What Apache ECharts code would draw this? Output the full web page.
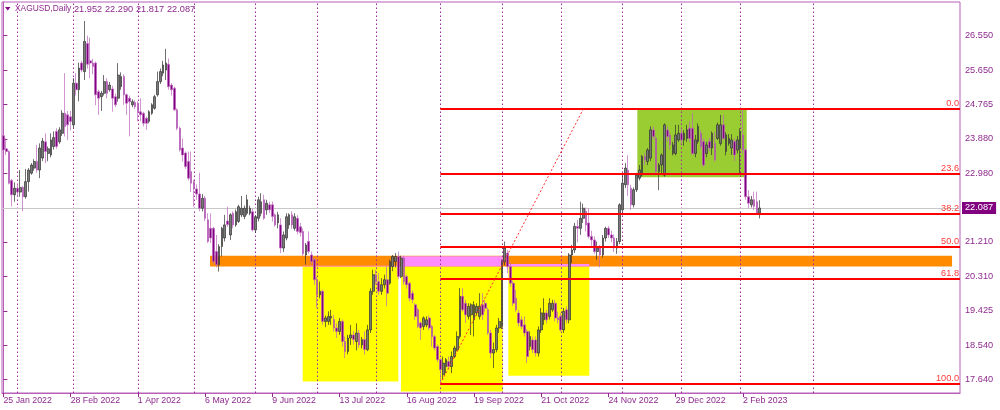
<!DOCTYPE html>
<html><head><meta charset="utf-8">
<script src="https://cdn.jsdelivr.net/npm/echarts@6/dist/echarts.min.js"></script>
<style>html,body{margin:0;padding:0;background:#fff}#c{width:1000px;height:410px}</style>
</head><body><div id="c"></div>
<script>
// ---------- data ----------
const symbolTitle = 'XAGUSD,Daily';
const firstDate = '2022-01-25';
const holidays = ['2022-04-15', '2022-12-26', '2023-01-02'];
// daily candles: [open, close, low, high]
const candles = [
[23.96,23.59,23.55,24.02],[23.62,23.55,23.46,23.89],[23.55,22.73,22.70,23.58],[22.80,22.43,22.13,22.84],[22.43,22.60,22.25,22.75],[22.60,22.50,22.38,22.70],[22.50,22.62,22.38,23.07],[22.62,22.38,22.00,22.66],[22.38,22.77,22.33,23.10],[22.77,23.07,22.51,23.12],
[22.99,23.20,22.95,23.25],[23.12,23.29,23.05,23.35],[23.29,23.07,23.00,23.72],[23.07,23.64,22.86,23.76],[23.38,23.82,23.30,23.90],[23.80,23.55,23.25,24.02],[23.50,23.62,23.30,23.68],[23.46,23.85,23.40,24.02],[23.68,23.91,23.60,24.07],[24.07,23.68,23.62,24.15],
[23.80,24.11,23.75,24.18],[24.02,24.54,23.95,24.62],[24.54,24.20,23.94,25.58],[24.50,24.24,23.85,24.60],[24.45,24.33,24.10,24.60],[24.24,25.32,24.15,25.45],[25.32,25.15,25.00,25.58],[25.15,25.71,24.85,25.85],[25.84,25.66,25.60,25.90],[25.62,26.40,25.40,26.93],
[26.35,25.81,25.70,26.55],[25.90,25.84,25.45,26.50],[25.84,25.75,25.55,25.95],[25.84,25.02,24.75,25.88],[25.10,24.93,24.50,25.15],[24.97,25.06,24.60,25.12],[25.06,25.36,25.00,25.53],[25.36,25.06,24.93,25.45],[25.15,25.27,25.10,25.35],[25.17,24.93,24.58,25.25],
[24.97,24.76,24.70,25.05],[24.93,25.53,24.84,25.84],[25.23,25.49,25.15,25.60],[25.49,25.02,24.76,25.55],[25.02,24.80,24.50,25.05],[24.93,24.84,23.94,25.00],[24.76,24.84,24.70,24.90],[24.82,24.71,24.65,24.88],[24.80,24.58,24.33,24.85],[24.58,24.50,24.33,24.93],
[24.54,24.28,24.20,24.58],[24.41,24.28,24.11,24.45],[24.33,24.58,24.28,24.62],[24.54,24.76,24.50,24.80],[24.67,24.97,24.63,25.02],[25.02,25.36,24.97,25.62],[25.36,25.62,25.30,25.70],[25.58,25.79,25.50,25.90],[25.66,25.84,25.40,26.21],[25.81,25.23,25.15,25.96],
[25.27,25.15,25.00,25.32],[25.19,24.63,24.60,25.23],[24.63,24.15,24.10,24.67],[24.15,23.59,23.55,24.20],[23.64,23.46,23.29,23.89],[23.51,23.16,23.10,23.55],[23.29,22.86,22.80,23.55],[23.03,22.73,22.50,23.55],[22.77,22.58,22.12,22.82],[22.58,22.45,22.30,22.70],
[22.45,22.08,22.00,23.00],[22.08,22.34,22.00,22.45],[22.34,21.82,21.75,22.40],[21.78,21.22,21.18,21.95],[21.56,21.31,21.18,21.95],[21.56,20.70,20.65,21.60],[20.96,20.62,20.55,21.39],[20.62,21.09,20.44,21.15],[21.09,21.56,20.83,21.60],[21.31,21.65,21.22,21.91],
[21.75,21.66,21.60,22.12],[21.39,21.91,21.26,21.95],[21.95,21.65,21.56,22.00],[21.65,21.99,21.60,22.05],[21.74,22.12,21.70,22.17],[21.91,22.08,21.85,22.40],[21.87,22.08,21.80,22.15],[21.95,22.30,21.90,22.43],[21.95,22.08,21.90,22.15],[21.99,21.52,21.48,22.08],
[21.52,21.86,21.44,21.90],[21.82,22.30,21.74,22.38],[21.95,22.25,21.87,22.47],[22.30,21.82,21.78,22.43],[22.04,22.21,21.91,22.30],[22.17,22.04,21.95,22.25],[22.17,21.87,21.74,22.25],[21.91,21.65,21.60,21.95],[21.70,21.91,21.56,21.99],[21.65,21.05,20.92,21.82],
[21.05,21.39,20.95,21.48],[21.31,21.86,21.25,21.95],[21.65,21.91,21.55,21.95],[21.91,21.65,21.55,22.00],[21.56,21.86,21.50,21.95],[21.82,21.48,21.40,21.90],[21.60,21.45,21.35,21.70],[21.48,20.90,20.85,21.56],[20.87,21.13,20.62,21.18],[21.22,20.96,20.90,21.48],
[20.87,20.70,20.62,20.96],[20.75,20.23,20.10,20.79],[20.23,19.84,19.50,20.30],[19.84,19.93,19.75,20.18],[19.93,19.15,19.06,19.97],[19.15,19.24,19.00,19.30],[19.15,19.28,19.06,19.41],[19.24,19.28,19.06,19.45],[19.20,18.98,18.89,19.32],[18.98,18.89,18.72,19.10],
[18.89,19.15,18.80,19.24],[19.15,18.63,18.50,19.20],[18.63,18.37,18.20,18.76],[18.37,18.72,18.30,18.80],[18.72,18.80,18.54,19.06],[18.80,18.68,18.55,18.90],[18.63,18.85,18.40,19.10],[18.85,18.54,18.46,18.93],[18.54,18.68,18.45,18.75],[18.68,18.42,18.29,18.89],
[18.42,18.93,18.38,19.06],[18.93,19.93,18.85,20.01],[19.93,20.36,19.84,20.49],[20.36,20.18,20.10,20.49],[20.18,19.93,19.84,20.40],[19.93,20.10,19.84,20.27],[20.10,20.23,20.00,20.36],[20.23,19.88,19.54,20.57],[20.14,20.70,20.10,20.75],[20.57,20.83,20.45,20.87],
[20.70,20.83,20.55,20.92],[20.83,20.31,20.25,20.96],[20.31,20.79,20.27,20.85],[20.79,20.18,20.10,20.85],[20.31,20.10,20.00,20.36],[20.14,19.75,19.67,20.18],[19.88,19.71,19.62,19.95],[19.58,19.28,19.19,19.62],[19.45,19.02,18.98,19.50],[19.11,18.98,18.67,19.15],
[19.02,19.24,18.93,19.28],[19.06,19.19,19.00,19.28],[19.24,18.98,18.93,19.30],[19.02,18.76,18.50,19.06],[18.76,18.46,18.40,18.80],[18.50,18.16,18.10,18.55],[18.16,17.90,17.54,18.20],[17.77,18.07,17.64,18.24],[17.98,18.16,17.81,18.20],[18.11,17.98,17.90,18.24],
[17.98,18.24,17.81,18.37],[18.24,18.46,18.20,18.52],[18.42,18.76,18.38,18.89],[18.76,19.80,18.70,20.01],[19.80,19.45,19.40,20.01],[19.62,19.32,19.11,19.71],[19.28,19.54,19.20,19.62],[19.32,19.58,18.80,19.62],[19.19,19.58,18.76,19.67],[19.37,19.54,19.30,19.62],
[19.28,19.54,19.20,19.88],[19.58,19.32,19.19,19.88],[19.62,19.49,19.40,19.70],[19.45,18.85,18.80,19.50],[18.85,18.33,18.20,18.93],[18.33,18.42,17.94,18.60],[18.42,18.98,18.35,19.06],[18.98,19.15,18.85,19.24],[19.02,20.70,18.95,20.75],[20.70,21.05,20.60,21.22],
[20.92,20.57,20.40,21.00],[20.57,20.14,20.05,20.66],[20.14,19.62,19.55,20.20],[19.75,19.45,19.40,19.97],[19.37,19.11,19.02,19.45],[19.19,19.02,18.95,19.28],[19.06,18.85,18.76,19.28],[18.89,18.24,18.07,18.95],[18.50,18.76,18.40,18.89],[18.67,18.42,18.33,18.76],
[18.67,18.33,18.24,18.76],[18.33,18.93,18.24,19.02],[18.93,19.37,18.85,19.50],[19.19,19.37,19.06,19.75],[19.37,19.19,19.10,19.45],[19.28,19.62,19.20,19.75],[19.45,19.62,19.40,19.71],[19.62,19.24,19.15,19.71],[19.24,19.19,19.10,19.40],[19.28,18.93,18.89,19.37],
[18.93,19.41,18.85,19.50],[19.45,19.19,19.10,19.54],[19.19,20.87,19.10,20.92],[20.87,21.00,20.66,21.13],[21.00,21.61,20.92,21.70],[21.61,21.56,21.20,21.78],[21.56,21.82,21.39,22.25],[21.82,22.08,21.70,22.20],[22.00,21.65,21.48,22.10],[21.70,21.35,21.30,22.08],
[21.35,21.26,21.10,21.50],[21.26,20.96,20.90,21.35],[20.96,21.05,20.75,21.22],[21.05,20.87,20.55,21.13],[20.87,21.31,20.80,21.39],[21.31,21.56,21.22,21.60],[21.56,21.39,21.31,21.62],[21.39,21.31,21.20,21.50],[21.31,21.05,20.95,21.40],[21.05,21.22,20.90,21.31],
[21.22,22.17,21.15,22.21],[22.04,22.73,21.99,22.94],[22.69,23.12,22.60,23.25],[23.07,22.69,22.40,23.45],[22.60,22.17,22.04,22.69],[22.17,22.56,22.10,22.62],[22.56,22.94,22.50,23.00],[22.86,23.07,22.80,23.20],[22.94,23.42,22.90,23.46],[23.42,23.33,23.20,23.50],
[23.29,23.59,23.20,23.64],[23.38,24.11,23.30,24.20],[24.11,23.94,23.85,24.20],[23.89,23.03,22.98,23.94],[23.03,23.20,22.55,23.25],[23.20,23.46,22.98,23.50],[22.94,24.24,22.90,24.28],[24.11,23.94,23.80,24.20],[23.98,23.72,23.60,24.05],[23.50,23.72,23.45,23.80],
[23.50,23.98,23.45,24.24],[23.85,24.02,23.80,24.24],[24.02,23.85,23.75,24.15],[23.85,24.02,23.70,24.10],[23.89,24.11,23.80,24.24],[24.15,23.89,23.80,24.33],[24.15,23.50,23.46,24.54],[23.50,23.85,23.40,23.98],[23.81,24.20,23.75,24.28],[24.02,23.68,23.60,24.10],
[23.81,23.20,23.15,23.89],[23.50,23.72,23.40,23.80],[23.81,23.64,23.55,23.90],[23.64,24.02,23.46,24.07],[23.76,23.33,23.29,24.05],[23.89,24.24,23.85,24.30],[23.76,24.24,23.70,24.50],[24.24,23.89,23.85,24.50],[23.55,23.98,23.45,24.05],[23.76,23.89,23.70,24.00],
[23.64,23.85,23.46,24.00],[23.81,23.46,23.30,23.90],[23.59,23.85,23.50,23.95],[23.64,24.07,22.94,24.15],[23.98,23.59,23.50,24.65],[23.59,22.38,22.30,23.64],[22.38,22.21,22.08,22.55],[22.17,22.30,22.10,22.40],[22.30,22.13,22.04,22.51],[22.25,21.95,21.91,22.51],
[21.952,22.087,21.817,22.290]
];
const lastPrice = 22.087;
const xTickLabels = ['25 Jan 2022','28 Feb 2022','1 Apr 2022','6 May 2022','9 Jun 2022','13 Jul 2022','16 Aug 2022','19 Sep 2022','21 Oct 2022','24 Nov 2022','29 Dec 2022','2 Feb 2023'];
const yTickLabels = ['26.550','25.650','24.765','23.880','22.980','21.210','20.310','19.425','18.540','17.640'];
const futureSeparators = ['2023-03-01'];
const totalSlots = 342;            // bars + empty future space on the time axis
const yMin = 17.296, yMax = 27.422;
// Fibonacci retracement (swing low 1 Sep 2022 -> swing high)
const fibLowBar = 156, fibHighBar = 207;
const fibLow = 17.536, fibHigh = 24.645;
const fibLevels = [0, 23.6, 38.2, 50, 61.8, 100];
// rectangles: [barFrom, priceLow, barTo, priceHigh]
const rectOrange = [73.76, 20.572, 338.66, 20.849];
const rectYellow = [[106.85, 17.596, 140.98, 20.590], [141.95, 17.337, 178.26, 20.836], [180.26, 17.743, 209.17, 20.634]];
const rectGreen  = [226.31, 22.885, 265.37, 24.671];

// ---------- derived ----------
const MON = ['Jan','Feb','Mar','Apr','May','Jun','Jul','Aug','Sep','Oct','Nov','Dec'];
const dates = [];
{
  const d = new Date(firstDate + 'T00:00:00Z');
  while (dates.length < candles.length) {
    const iso = d.toISOString().slice(0, 10);
    const wd = d.getUTCDay();
    if (wd !== 0 && wd !== 6 && holidays.indexOf(iso) < 0) dates.push(new Date(d));
    d.setUTCDate(d.getUTCDate() + 1);
  }
}
const lbl = d => d.getUTCDate() + ' ' + MON[d.getUTCMonth()] + ' ' + d.getUTCFullYear();
const dateLabels = dates.map(lbl);
const xTickBars = xTickLabels.map(t => dateLabels.indexOf(t)).filter(i => i >= 0);
const separators = [];
for (let i = 1; i < dates.length; i++) if (dates[i].getUTCMonth() !== dates[i - 1].getUTCMonth()) separators.push(i);
const lastIdx = candles.length - 1;
futureSeparators.forEach(s => {
  const days = Math.round((new Date(s + 'T00:00:00Z') - dates[lastIdx]) / 86400000);
  separators.push(lastIdx + days);
});
const seriesData = candles.map((c, i) => [i, c[0], c[1], c[2], c[3]]);
const last = candles[lastIdx];
const headerValues = [last[0], last[3], last[2], last[1]].map(v => v.toFixed(3)); // O H L C

const PURPLE = '#8e2a8e';
const FRAME = '#b860b8';
const FONT = 'Liberation Sans, Arial, sans-serif';

function rectArea(r, color) {
  return [{ coord: [r[0], r[1]], itemStyle: { color: color, opacity: 1 } }, { coord: [r[2], r[3]] }];
}
function intersect(a, b) {
  const x0 = Math.max(a[0], b[0]), x1 = Math.min(a[2], b[2]);
  const y0 = Math.max(a[1], b[1]), y1 = Math.min(a[3], b[3]);
  return (x1 > x0 && y1 > y0) ? [x0, y0, x1, y1] : null;
}
const areas = [];
rectYellow.forEach(r => areas.push(rectArea(r, '#ffff00')));
areas.push(rectArea(rectOrange, '#ff8c00'));
rectYellow.forEach(r => { const k = intersect(r, rectOrange); if (k) areas.push(rectArea(k, '#ff8cff')); });
areas.push(rectArea(rectGreen, '#9acd32'));

const fibLines = fibLevels.map(l => {
  const p = fibHigh - (fibHigh - fibLow) * l / 100;
  return [{ coord: [fibLowBar, p], name: l.toFixed(1) }, { coord: [totalSlots - 0.5, p] }];
});
fibLines.push([
  { coord: [fibLowBar, fibLow], lineStyle: { type: [2, 2], width: 1, color: '#ff3030' }, label: { show: false } },
  { coord: [fibHighBar, fibHigh] }
]);

const headerText = [{ type: 'text', x: 15, y: 9, style: { text: symbolTitle, fill: PURPLE, font: '8.4px ' + FONT, textVerticalAlign: 'middle' } }];
headerValues.forEach((v, k) => headerText.push({
  type: 'text', x: 74 + k * 31, y: 9, style: { text: v, fill: PURPLE, font: '9.2px ' + FONT, textVerticalAlign: 'middle' }
}));

const chart = echarts.init(document.getElementById('c'), null, { renderer: 'canvas' });
chart.setOption({
  animation: false,
  backgroundColor: '#ffffff',
  textStyle: { fontFamily: FONT },
  grid: { left: 2, right: 40, top: 2, bottom: 17, show: true, borderColor: FRAME, borderWidth: 1, backgroundColor: '#fff' },
  xAxis: {
    type: 'value', min: -0.5, max: totalSlots - 0.5,
    axisLine: { show: true, lineStyle: { color: FRAME, width: 1 } },
    splitLine: { show: false },
    axisTick: { show: true, customValues: xTickBars, length: 4, lineStyle: { color: PURPLE } },
    axisLabel: { customValues: xTickBars, align: 'left', margin: 3, color: PURPLE, fontSize: 8.8, fontFamily: FONT,
      formatter: v => dateLabels[Math.round(v)] || '' }
  },
  yAxis: {
    type: 'value', position: 'right', min: yMin, max: yMax, scale: true,
    axisLine: { show: true, lineStyle: { color: FRAME, width: 1 } },
    splitLine: { show: false },
    axisTick: { show: true, customValues: yTickLabels.map(Number), length: 4, lineStyle: { color: PURPLE } },
    axisLabel: { customValues: yTickLabels.map(Number), margin: 5, color: PURPLE, fontSize: 9.2, fontFamily: FONT,
      formatter: v => v.toFixed(3) }
  },
  series: [
    { // rectangles drawn behind everything
      type: 'line', data: [], clip: false, silent: true, z: 1,
      markArea: { silent: true, z: 1, data: areas }
    },
    { // month separators
      type: 'line', data: [], clip: false, silent: true, z: 1,
      markLine: { silent: true, z: 1.5, symbol: 'none', label: { show: false },
        lineStyle: { color: '#9a2a9a', width: 1, type: [1.5, 2.5] },
        data: separators.map(i => ({ xAxis: i })) }
    },
    { // bid line + price box
      type: 'line', data: [], clip: false, silent: true, z: 1,
      markLine: { silent: true, z: 1.8, symbol: 'none',
        lineStyle: { color: '#c8c8c8', width: 1, type: 'solid' },
        label: { show: true, position: 'end', distance: 2, formatter: () => lastPrice.toFixed(3),
          backgroundColor: '#800080', color: '#ffffff', padding: [2, 3, 1, 3], fontSize: 9.2, fontFamily: FONT },
        data: [{ yAxis: lastPrice }] }
    },
    {
      type: 'candlestick', z: 2, barWidth: 2.2,
      encode: { x: 0, y: [1, 2, 3, 4] },
      data: seriesData,
      itemStyle: { color: '#7a7a7a', color0: '#800080', borderColor: '#303030', borderColor0: '#bb66bb', borderWidth: 0.7 }
    },
    { // Fibonacci retracement
      type: 'line', data: [], clip: false, silent: true, z: 5,
      markLine: { silent: true, z: 5, symbol: 'none',
        lineStyle: { color: '#ff0000', width: 2, type: 'solid' },
        label: { show: true, position: 'insideEndTop', distance: 1, formatter: '{b}', color: '#ff3a3a', fontSize: 9.2, fontFamily: FONT },
        data: fibLines }
    }
  ],
  graphic: [
    { type: 'polygon', shape: { points: [[5, 7], [10.5, 7], [7.75, 10.5]] }, style: { fill: '#800080' } }
  ].concat(headerText)
});
</script>
</body></html>
